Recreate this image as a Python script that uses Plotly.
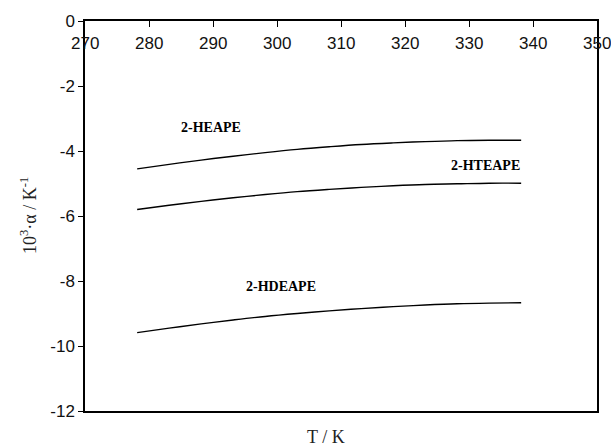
import plotly.graph_objects as go

# Temperature grid (K) and thermal expansion coefficient 10^3·alpha (K^-1)
T = [278.15, 283.15, 288.15, 293.15, 298.15, 303.15, 308.15,
     313.15, 318.15, 323.15, 328.15, 333.15, 338.15]
alpha_heape = [-4.55, -4.41, -4.28, -4.16, -4.05, -3.95, -3.87,
               -3.80, -3.75, -3.71, -3.68, -3.67, -3.67]
alpha_hteape = [-5.80, -5.67, -5.55, -5.44, -5.34, -5.25, -5.18,
                -5.12, -5.07, -5.03, -5.01, -4.99, -4.99]
alpha_hdeape = [-9.59, -9.45, -9.32, -9.20, -9.09, -9.00, -8.92,
                -8.85, -8.79, -8.74, -8.70, -8.68, -8.67]

series_names = ["2-HEAPE", "2-HTEAPE", "2-HDEAPE"]
series_values = [alpha_heape, alpha_hteape, alpha_hdeape]
# label anchor points (T, value) for each curve name
label_T = [289.7, 332.5, 300.6]
label_y = [-3.28, -4.44, -8.16]

x_ticks = [270, 280, 290, 300, 310, 320, 330, 340, 350]
x_ticktext = ["270", "280", "290", "300", "310", "320", "330", "340", "350"]
y_ticks = [0, -2, -4, -6, -8, -10, -12]
y_ticktext = ["0", "-2", "-4", "-6", "-8", "-10", "-12"]

fig = go.Figure()
for name, vals in zip(series_names, series_values):
    fig.add_trace(go.Scatter(x=T, y=vals, mode="lines", name=name,
                             line=dict(color="black", width=1.4),
                             line_shape="spline", showlegend=False))

for name, tx, ty in zip(series_names, label_T, label_y):
    fig.add_annotation(x=tx, y=ty, text="<b>" + name + "</b>", showarrow=False,
                       font=dict(family="Liberation Serif", size=14, color="black"))

# x tick labels sit just below the top axis line, inside the frame
for v, t in zip(x_ticks, x_ticktext):
    fig.add_annotation(x=v, xref="x", y=1, yref="paper", yshift=-22,
                       yanchor="middle", xanchor="center", text=t,
                       showarrow=False,
                       font=dict(family="Liberation Sans, Arial", size=17,
                                 color="#111"))

# axis titles
fig.add_annotation(xref="paper", yref="paper", x=0.47, y=0, yshift=-26,
                   yanchor="middle", text="T / K", showarrow=False,
                   font=dict(family="Liberation Serif", size=18, color="#222"))
fig.add_annotation(xref="paper", yref="paper", x=0, xshift=-57, y=0.5,
                   xanchor="center", yanchor="middle",
                   textangle=-90, text="10<sup>3</sup>·α / K<sup>-1</sup>",
                   showarrow=False,
                   font=dict(family="Liberation Serif", size=18, color="#222"))

fig.update_layout(
    width=611, height=448,
    margin=dict(l=85, r=14, t=18, b=37),
    paper_bgcolor="white", plot_bgcolor="white",
    font=dict(family="Liberation Sans, Arial", size=17, color="#111"),
    xaxis=dict(range=[270, 350], side="top", tickvals=x_ticks,
               ticks="inside", ticklen=6, tickcolor="black",
               showticklabels=False,
               showline=True, linecolor="black", linewidth=1.5,
               mirror=True, showgrid=False, zeroline=False),
    yaxis=dict(range=[-12, 0], tickvals=y_ticks, ticktext=y_ticktext,
               ticks="outside", ticklen=5, tickcolor="black",
               showline=True, linecolor="black", linewidth=1.5,
               mirror=True, showgrid=False, zeroline=False),
)

fig.write_html("out.html")
